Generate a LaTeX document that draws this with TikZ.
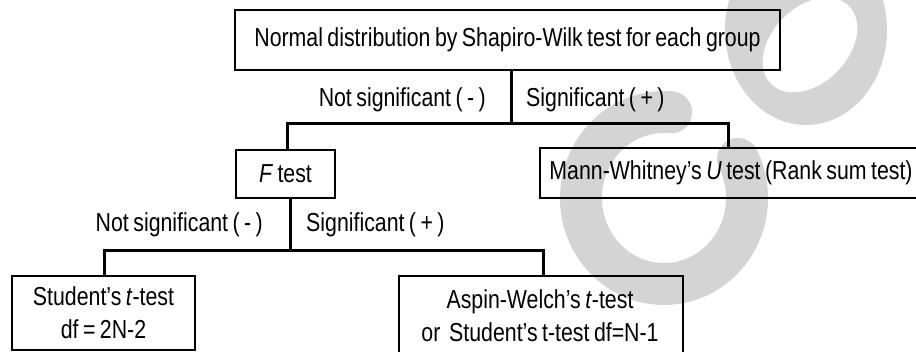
\documentclass[tikz,border=0pt]{standalone}
\usepackage{fontspec}
\setmainfont{Liberation Sans}[FakeStretch=0.82, WordSpace=0.75]
\begin{document}
\begin{tikzpicture}[x=1pt,y=1pt,yscale=-1,
  every node/.style={font=\fontsize{26}{33}\selectfont, inner sep=0pt},
  box/.style={draw=black, line width=2pt, rectangle},
  conn/.style={draw=black, line width=3pt}
]
\useasboundingbox (0,0) rectangle (916,352);
\definecolor{wmgrey}{RGB}{212,212,212}

% faint background emblem: a ring and an open loop
\fill[wmgrey] (806,30) ellipse [x radius=81pt, y radius=95pt];
\fill[white, rotate around={-45:(810,45)}] (810,45) ellipse [x radius=55pt, y radius=38pt];
\draw[wmgrey, line width=42pt, line cap=round]
  (664,198) ++(-85:83pt and 86pt)
  arc[start angle=-85, end angle=-387, x radius=83pt, y radius=86pt];

% boxes
\node[box, minimum width=545pt, minimum height=60pt] (top) at (507.5,40)
  {Normal distribution by Shapiro-Wilk test for each group};
\node[box, minimum width=99pt, minimum height=48pt] (ftest) at (285.5,174)
  {\textit{F} test};
\node[box, minimum width=382pt, minimum height=50pt] (mw) at (731,173)
  {Mann-Whitney’s \textit{U} test (Rank sum test)};
\node[box, minimum width=183pt, minimum height=74pt, align=center] (student) at (103.5,313)
  {Student’s \textit{t}-test\\df = 2N-2};
\node[box, minimum width=284pt, minimum height=96pt] (aspin) at (541,324) {};
\node[align=center] (aspintext) at (540,316)
  {Aspin-Welch’s \textit{t}-test\\or\ \ Student’s t-test df=N-1};

% connectors
\coordinate (j1) at (511,124);
\coordinate (jL) at (287,124);
\coordinate (jR) at (728,124);
\draw[conn] (top.south -| j1) -- (j1);
\draw[conn] (ftest.north -| jL) -- (jL) -- (jR) -- (mw.north -| jR);

\coordinate (j2) at (290,251);
\coordinate (kL) at (104,251);
\coordinate (kR) at (543,251);
\draw[conn] (ftest.south -| j2) -- (j2);
\draw[conn] (student.north -| kL) -- (kL) -- (kR) -- (aspin.north -| kR);

% branch labels
\node[anchor=base east] (ns1) at (486,107) {Not significant ( - )};
\node[anchor=base west] (s1) at (526,107) {Significant ( + )};
\node[anchor=base east] (ns2) at (263,232) {Not significant ( - )};
\node[anchor=base west] (s2) at (306,232) {Significant ( + )};
\end{tikzpicture}
\end{document}
